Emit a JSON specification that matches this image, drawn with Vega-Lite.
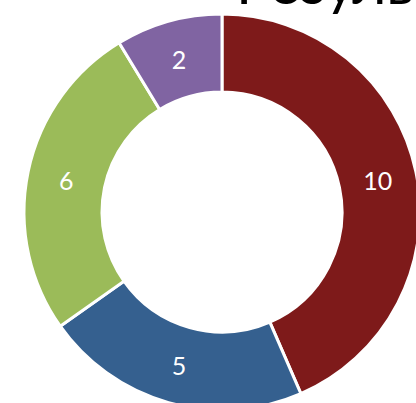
{
  "$schema": "https://vega.github.io/schema/vega-lite/v6.json",
  "autosize": {"type": "none"},
  "padding": 0,
  "width": 444,
  "height": 424,
  "background": "white",
  "title": {
    "text": "Результаты",
    "anchor": "start",
    "orient": "top",
    "offset": -16,
    "dx": 236,
    "baseline": "top",
    "font": "Lato",
    "fontSize": 58,
    "fontWeight": "normal",
    "color": "black"
  },
  "data": {
    "values": [
      {"category": "A", "value": 10, "idx": 1},
      {"category": "B", "value": 5, "idx": 2},
      {"category": "C", "value": 6, "idx": 3},
      {"category": "D", "value": 2, "idx": 4}
    ]
  },
  "encoding": {
    "theta": {"field": "value", "type": "quantitative", "stack": true},
    "order": {"field": "idx", "type": "quantitative"}
  },
  "layer": [
    {
      "mark": {"type": "arc", "innerRadius": 120, "outerRadius": 198, "stroke": "white", "strokeWidth": 3},
      "encoding": {
        "color": {
          "field": "category",
          "type": "nominal",
          "scale": {"domain": ["A", "B", "C", "D"], "range": ["#7E1A1A", "#35608F", "#9BBB59", "#8064A2"]},
          "legend": null
        }
      }
    },
    {
      "mark": {"type": "text", "radius": 159, "color": "white", "font": "Lato", "fontSize": 25, "baseline": "middle", "align": "center", "dy": 2},
      "encoding": {
        "text": {"field": "value", "type": "quantitative"}
      }
    }
  ]
}
